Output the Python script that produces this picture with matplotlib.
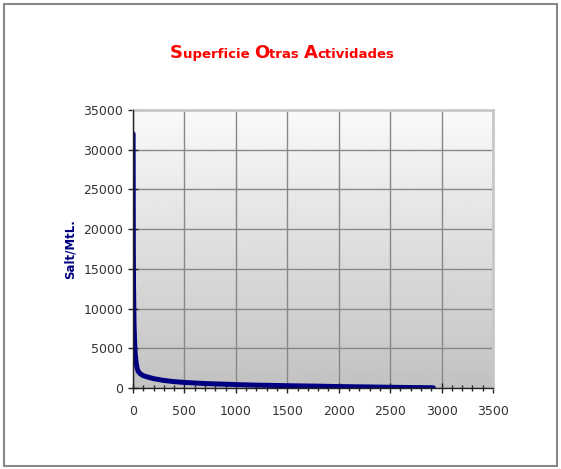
import numpy as np
import matplotlib
matplotlib.use("Agg")
import matplotlib.pyplot as plt
from matplotlib.patches import Rectangle
from matplotlib.ticker import MultipleLocator

# curve
x = [1, 2, 3, 5, 8, 10, 15, 20, 30, 40, 50, 70, 100, 150, 200, 300, 400,
     500, 700, 1000, 1200, 1500, 1800, 2000, 2300, 2500, 2700, 2920]
y = [32000, 25000, 18000, 13000, 10000, 8000, 6000, 4500, 3200, 2500, 2100,
     1800, 1550, 1350, 1180, 950, 800, 700, 560, 430, 360, 290, 230, 180,
     130, 90, 60, 30]

title_parts = [("S", 13), ("uperficie ", 9.5), ("O", 13), ("tras ", 9.5),
               ("A", 13), ("ctividades", 9.5)]

plt.rcParams['font.family'] = ['DejaVu Sans']

fig = plt.figure(figsize=(5.61, 4.69), dpi=100)
fig.patch.set_facecolor('white')
fig.patches.append(Rectangle((4 / 561, 3 / 469), 553 / 561, 462 / 469,
                             transform=fig.transFigure, fill=False,
                             edgecolor='#888888', lw=1.5))

ax = fig.add_axes([133 / 561, 1 - 388 / 469, 360 / 561, 278 / 469])

# gradient background
grad = np.linspace(0.98, 0.76, 256).reshape(-1, 1)
ax.imshow(grad, cmap='gray', vmin=0, vmax=1, aspect='auto',
          extent=[0, 3500, 0, 35000], zorder=0, origin='upper')

ax.plot(x, y, color='#000080', lw=3.6, solid_capstyle='round', zorder=3)

ax.set_xlim(0, 3500)
ax.set_ylim(0, 35000)
ax.set_xticks(np.arange(0, 3501, 500))
ax.set_yticks(np.arange(0, 35001, 5000))
ax.xaxis.set_minor_locator(MultipleLocator(100))
ax.grid(True, color='#888888', lw=1, zorder=1)
ax.set_axisbelow(True)

for s in ['top', 'right']:
    ax.spines[s].set_color('#c8c8c8')
    ax.spines[s].set_linewidth(2)
for s in ['left', 'bottom']:
    ax.spines[s].set_color('#222222')
    ax.spines[s].set_linewidth(1)
    ax.spines[s].set_zorder(4)

ax.tick_params(axis='both', which='major', direction='inout', length=7,
               width=1, color='#222222', labelsize=9, labelcolor='#333333')
ax.tick_params(axis='x', which='major', pad=9)
ax.tick_params(axis='x', which='minor', direction='inout', length=5,
               width=1, color='#222222')

ax.set_ylabel('Salt/MtL.', color='#000080', fontsize=8.5, fontweight='bold',
              labelpad=5)

# title with larger initials
fig.canvas.draw()
r = fig.canvas.get_renderer()
widths = []
for s, fs in title_parts:
    t = fig.text(0, 0, s, fontsize=fs, fontweight='bold')
    widths.append(t.get_window_extent(r).width)
    t.remove()
total = sum(widths)
cx = 282
px = cx - total / 2
for (s, fs), w in zip(title_parts, widths):
    fig.text(px / 561, 1 - 58 / 469, s, fontsize=fs, fontweight='bold',
             color='#ff0000', ha='left', va='baseline')
    px += w

fig.savefig('out.png', dpi=100)
